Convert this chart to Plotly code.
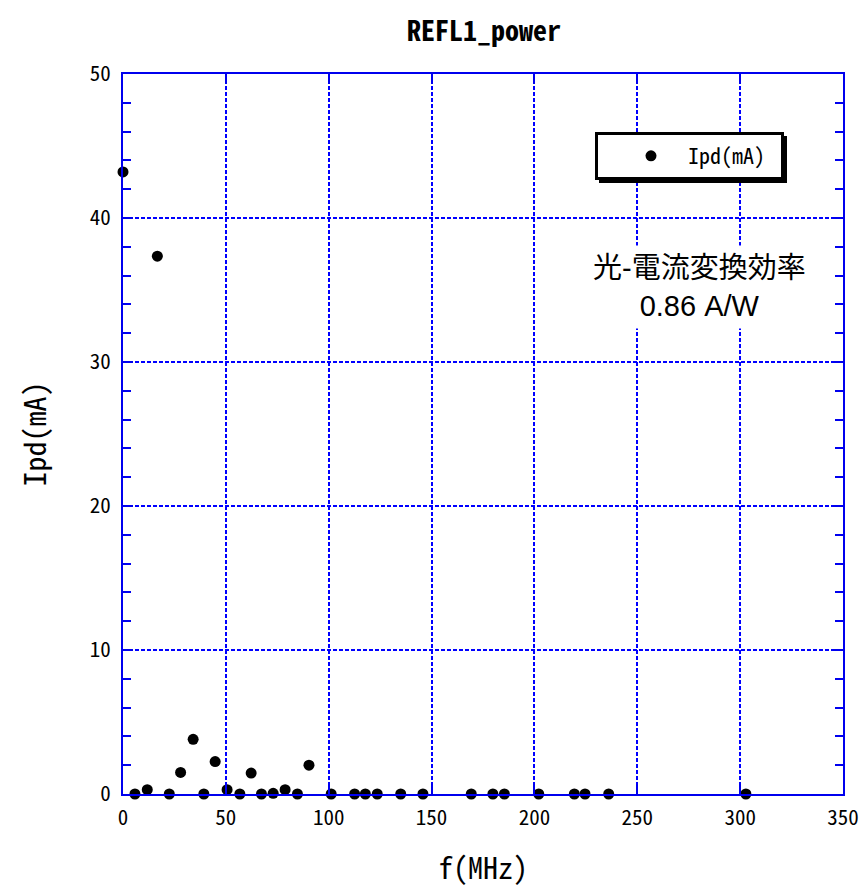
import plotly.graph_objects as go

# ---- data ----
freq_mhz = [0.0, 5.8, 11.8, 16.7, 22.5, 28.0, 34.1, 39.3, 44.8, 50.6, 56.8, 62.3,
            67.3, 73.0, 78.8, 84.8, 90.4, 101.2, 112.6, 117.8, 123.6, 135.0,
            145.8, 169.3, 179.8, 185.4, 202.1, 219.4, 224.6, 236.1, 302.8]
ipd_ma = [43.2, 0.0, 0.3, 37.35, 0.0, 1.5, 3.8, 0.0, 2.25, 0.3, 0.0, 1.45,
          0.0, 0.05, 0.3, 0.0, 2.0, 0.0, 0.0, 0.0, 0.0, 0.0,
          0.0, 0.0, 0.0, 0.0, 0.0, 0.0, 0.0, 0.0, 0.0]
series_name = "Ipd(mA)"
x_ticks = [0, 50, 100, 150, 200, 250, 300, 350]
y_ticks = [0, 10, 20, 30, 40, 50]
title_text = "REFL1_power"
x_title = "f(MHz)"
y_title = "Ipd(mA)"
note_text = "光-電流変換効率<br>0.86 A/W"

# ---- layout geometry ----
W, H = 867, 893
ML, MR, MT, MB = 123, 24, 74, 99
PW, PH = W - ML - MR, H - MT - MB

def px(x):
    return (x - ML) / PW

def py(y):
    return (H - MB - y) / PH

BLUE = "#0000EE"
MONO = "Noto Sans Mono CJK JP, Noto Sans CJK JP, DejaVu Sans Mono, monospace"

fig = go.Figure()
fig.add_trace(go.Scatter(
    x=freq_mhz, y=ipd_ma, mode="markers", name=series_name,
    marker=dict(color="black", size=11),
    cliponaxis=False,
))

axis_common = dict(
    showline=True, linecolor=BLUE, linewidth=2, mirror="ticks",
    ticks="inside", tickcolor=BLUE, tickwidth=2, ticklen=10,
    showgrid=True, gridcolor="#0000FF", gridwidth=1.5, griddash="4px,2px",
    zeroline=False, automargin=False,
    tickfont=dict(family=MONO, size=21, color="black"),
)

fig.update_xaxes(
    range=[0, 350], tickmode="linear", tick0=x_ticks[0], dtick=x_ticks[1] - x_ticks[0],
    ticklabelstandoff=4,
    title=dict(text=x_title, font=dict(family=MONO, size=30, color="black"), standoff=28),
    **axis_common,
)
fig.update_yaxes(
    range=[0, 50], tickmode="linear", tick0=y_ticks[0], dtick=y_ticks[1] - y_ticks[0],
    ticklabelstandoff=6,
    title=dict(text=y_title, font=dict(family=MONO, size=30, color="black"), standoff=34),
    minor=dict(dtick=2, tick0=0, ticks="inside", ticklen=8, tickwidth=2, tickcolor=BLUE, showgrid=False),
    **axis_common,
)

shapes = [
    # legend shadow
    dict(type="rect", xref="paper", yref="paper",
         x0=px(599), x1=px(787), y0=py(183), y1=py(136),
         fillcolor="black", line=dict(width=0), layer="above"),
    # legend box
    dict(type="rect", xref="paper", yref="paper",
         x0=px(596.5), x1=px(782.5), y0=py(178.5), y1=py(133.5),
         fillcolor="white", line=dict(color="black", width=3), layer="above"),
]

fig.update_layout(
    width=W, height=H,
    margin=dict(l=ML, r=MR, t=MT, b=MB),
    paper_bgcolor="white", plot_bgcolor="white",
    title=dict(text=title_text, xref="container", x=484 / W, xanchor="center",
               yref="container", y=1 - 31 / H, yanchor="middle",
               font=dict(family=MONO, size=28, color="black", weight="bold")),
    showlegend=True,
    legend=dict(x=px(614), y=py(156), xanchor="left", yanchor="middle",
                bgcolor="rgba(0,0,0,0)", borderwidth=0,
                font=dict(family=MONO, size=22, color="black"),
                itemwidth=64),
    shapes=shapes,
    annotations=[dict(
        text=note_text, xref="paper", yref="paper", x=px(699), y=py(287),
        xanchor="center", yanchor="middle", showarrow=False,
        font=dict(family="Liberation Sans, Noto Sans CJK JP, Arial, sans-serif", size=29, color="black"),
        bgcolor="white", borderpad=6,
    )],
)

fig.write_html("out.html", config={"displayModeBar": False},
               post_script="document.body.style.margin='0px';")
